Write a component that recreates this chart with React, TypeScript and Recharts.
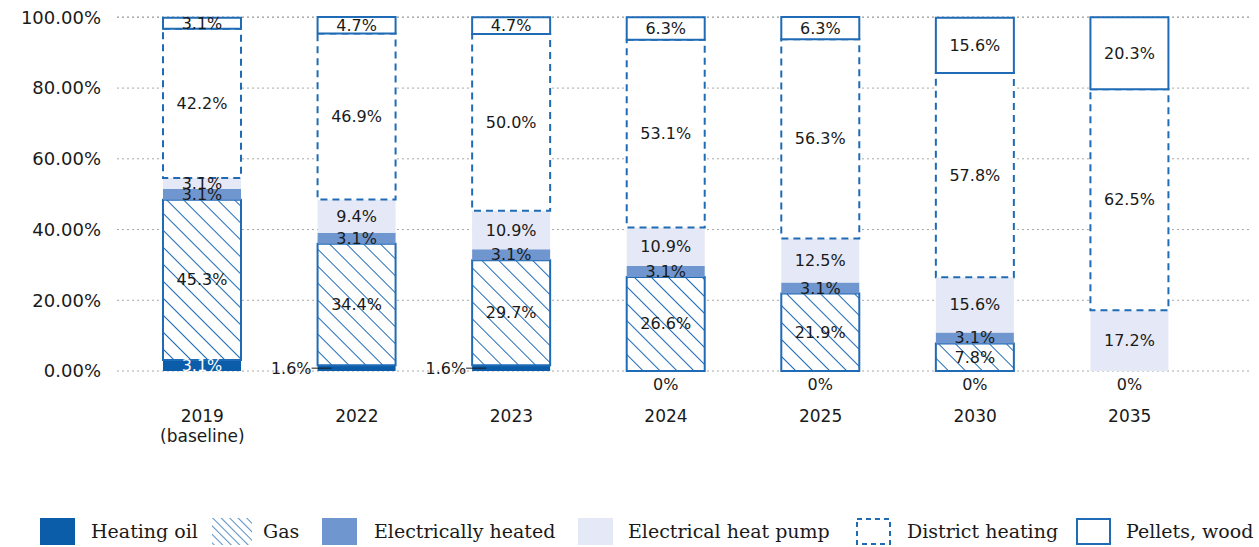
import React from "react";
import { BarChart, Bar, XAxis, YAxis, CartesianGrid, LabelList } from "recharts";

const years = ["2019\n(baseline)", "2022", "2023", "2024", "2025", "2030", "2035"];
const heatingOil = [3.1, 1.6, 1.6, 0, 0, 0, 0];
const gas = [45.3, 34.4, 29.7, 26.6, 21.9, 7.8, 0];
const electricallyHeated = [3.1, 3.1, 3.1, 3.1, 3.1, 3.1, 0];
const heatPump = [3.1, 9.4, 10.9, 10.9, 12.5, 15.6, 17.2];
const districtHeating = [42.2, 46.9, 50.0, 53.1, 56.3, 57.8, 62.5];
const pelletsWood = [3.1, 4.7, 4.7, 6.3, 6.3, 15.6, 20.3];
const yTicks = [0, 20, 40, 60, 80, 100];

const data = years.map((year, i) => ({
  year,
  oil: heatingOil[i],
  gas: gas[i],
  elec: electricallyHeated[i],
  pump: heatPump[i],
  district: districtHeating[i],
  pellets: pelletsWood[i],
}));

const BLUE = "#0b5ca9";
const LINE = "#1f6bb5";
const ELEC = "#7096cf";
const PUMP = "#e5e8f6";
const INK = "#1a1a1a";
const SANS = "'DejaVu Sans', sans-serif";
const SERIF = "'DejaVu Serif', serif";

const pct = (v: number) => `${v.toFixed(1)}%`;

const CenterText = ({ x, y, fill = INK, anchor = "middle", children }: any) => (
  <text x={x} y={y} textAnchor={anchor} dominantBaseline="central" fontFamily={SANS} fontSize={16} fill={fill}>
    {children}
  </text>
);

// label centred in its segment; zero segments stay unlabelled
const SegmentLabel = (props: any) => {
  const { x, y, width, height, value } = props;
  if (!value) return null;
  return <CenterText x={x + width / 2} y={y + height / 2}>{pct(value)}</CenterText>;
};

// heating oil: white inside the bar, or outside with a leader when thin
const OilLabel = (props: any) => {
  const { x, y, width, height, value } = props;
  if (!value) return null;
  const cy = y + height / 2;
  if (value < 2) {
    return (
      <g>
        <CenterText x={x - 6} y={cy} anchor="end">{pct(value)}</CenterText>
        <line x1={x - 6} x2={x + 14} y1={cy} y2={cy} stroke={INK} strokeWidth={1} />
      </g>
    );
  }
  return <CenterText x={x + width / 2} y={cy} fill="#fff">{pct(value)}</CenterText>;
};

// heat pump label; zero-height oil bars get no label of their own, so the
// "0%" under the axis is placed from this segment's scale
const PumpLabel = (props: any) => {
  const { x, y, width, height, value, index } = props;
  const below = heatingOil[index] + gas[index] + electricallyHeated[index];
  const baseline = y + height + (below * height) / value;
  return (
    <g>
      <CenterText x={x + width / 2} y={y + height / 2}>{pct(value)}</CenterText>
      {heatingOil[index] === 0 && (
        <CenterText x={x + width / 2} y={baseline + 13}>0%</CenterText>
      )}
    </g>
  );
};

const YearTick = (props: any) => {
  const { x, y, payload } = props;
  const lines = String(payload.value).split("\n");
  return (
    <text x={x} y={y + 43} textAnchor="middle" fontFamily={SANS} fontSize={17} fill={INK}>
      {lines.map((l, i) => (
        <tspan key={i} x={x} dy={i === 0 ? 0 : 20}>
          {l}
        </tspan>
      ))}
    </text>
  );
};

const hatchIcon = (
  <svg width={40} height={27}>
    <defs>
      <pattern id="legendHatch" patternUnits="userSpaceOnUse" width={6} height={6} patternTransform="rotate(-45)">
        <rect width={6} height={6} fill="#fff" />
        <line x1={0} y1={0} x2={0} y2={6} stroke={LINE} strokeWidth={1.5} />
      </pattern>
    </defs>
    <rect width={40} height={27} fill="url(#legendHatch)" />
  </svg>
);

const boxIcon = (dash?: string) => (
  <svg width={35} height={27}>
    <rect x={1} y={1} width={33} height={25} fill="#fff" stroke={LINE} strokeWidth={2} strokeDasharray={dash} />
  </svg>
);

const swatch = (color: string) => <div style={{ width: 35, height: 27, background: color }} />;

const legendItems = [
  { name: "Heating oil", icon: swatch(BLUE), iconLeft: 40, textLeft: 91 },
  { name: "Gas", icon: hatchIcon, iconLeft: 212, textLeft: 263 },
  { name: "Electrically heated", icon: swatch(ELEC), iconLeft: 322, textLeft: 374 },
  { name: "Electrical heat pump", icon: swatch(PUMP), iconLeft: 578, textLeft: 628 },
  { name: "District heating", icon: boxIcon("5 4"), iconLeft: 856, textLeft: 907 },
  { name: "Pellets, wood", icon: boxIcon(), iconLeft: 1076, textLeft: 1126 },
];

export default function App() {
  return (
    <div style={{ position: "absolute", left: 0, top: 0, width: 1259, height: 547, background: "#fff", overflow: "hidden" }}>
      <BarChart
        width={1259}
        height={460}
        data={data}
        margin={{ top: 17, right: 9, bottom: 0, left: 0 }}
        barSize={78}
      >
        <defs>
          <pattern id="gasHatch" patternUnits="userSpaceOnUse" width={12} height={12} patternTransform="rotate(-45)">
            <rect width={12} height={12} fill="#fff" />
            <line x1={0} y1={0} x2={0} y2={12} stroke={LINE} strokeWidth={2} />
          </pattern>
        </defs>
        <CartesianGrid vertical={false} stroke="#a8a8a8" strokeDasharray="2 3" />
        <XAxis
          dataKey="year"
          axisLine={false}
          tickLine={false}
          height={89}
          padding={{ left: 8, right: 43 }}
          tick={<YearTick />}
          interval={0}
        />
        <YAxis
          width={117}
          domain={[0, 100]}
          ticks={yTicks}
          axisLine={false}
          tickLine={false}
          tickMargin={10}
          tickFormatter={(v: number) => `${v.toFixed(2)}%`}
          tick={{ fontFamily: SANS, fontSize: 18, fill: INK }}
        />
        <Bar dataKey="oil" stackId="s" fill={BLUE} isAnimationActive={false}>
          <LabelList dataKey="oil" content={<OilLabel />} />
        </Bar>
        <Bar dataKey="gas" stackId="s" fill="url(#gasHatch)" stroke={LINE} strokeWidth={2} isAnimationActive={false}>
          <LabelList dataKey="gas" content={<SegmentLabel />} />
        </Bar>
        <Bar dataKey="elec" stackId="s" fill={ELEC} isAnimationActive={false}>
          <LabelList dataKey="elec" content={<SegmentLabel />} />
        </Bar>
        <Bar dataKey="pump" stackId="s" fill={PUMP} isAnimationActive={false}>
          <LabelList dataKey="pump" content={<PumpLabel />} />
        </Bar>
        <Bar
          dataKey="district"
          stackId="s"
          fill="#fff"
          stroke={LINE}
          strokeWidth={2}
          strokeDasharray="7 5"
          isAnimationActive={false}
        >
          <LabelList dataKey="district" content={<SegmentLabel />} />
        </Bar>
        <Bar dataKey="pellets" stackId="s" fill="#fff" stroke={LINE} strokeWidth={2} isAnimationActive={false}>
          <LabelList dataKey="pellets" content={<SegmentLabel />} />
        </Bar>
      </BarChart>
      {legendItems.map((item) => (
        <React.Fragment key={item.name}>
          <div style={{ position: "absolute", left: item.iconLeft, top: 518 }}>{item.icon}</div>
          <div
            style={{
              position: "absolute",
              left: item.textLeft,
              top: 518,
              height: 27,
              lineHeight: "27px",
              fontFamily: SERIF,
              fontSize: 19,
              color: INK,
              whiteSpace: "nowrap",
            }}
          >
            {item.name}
          </div>
        </React.Fragment>
      ))}
    </div>
  );
}
